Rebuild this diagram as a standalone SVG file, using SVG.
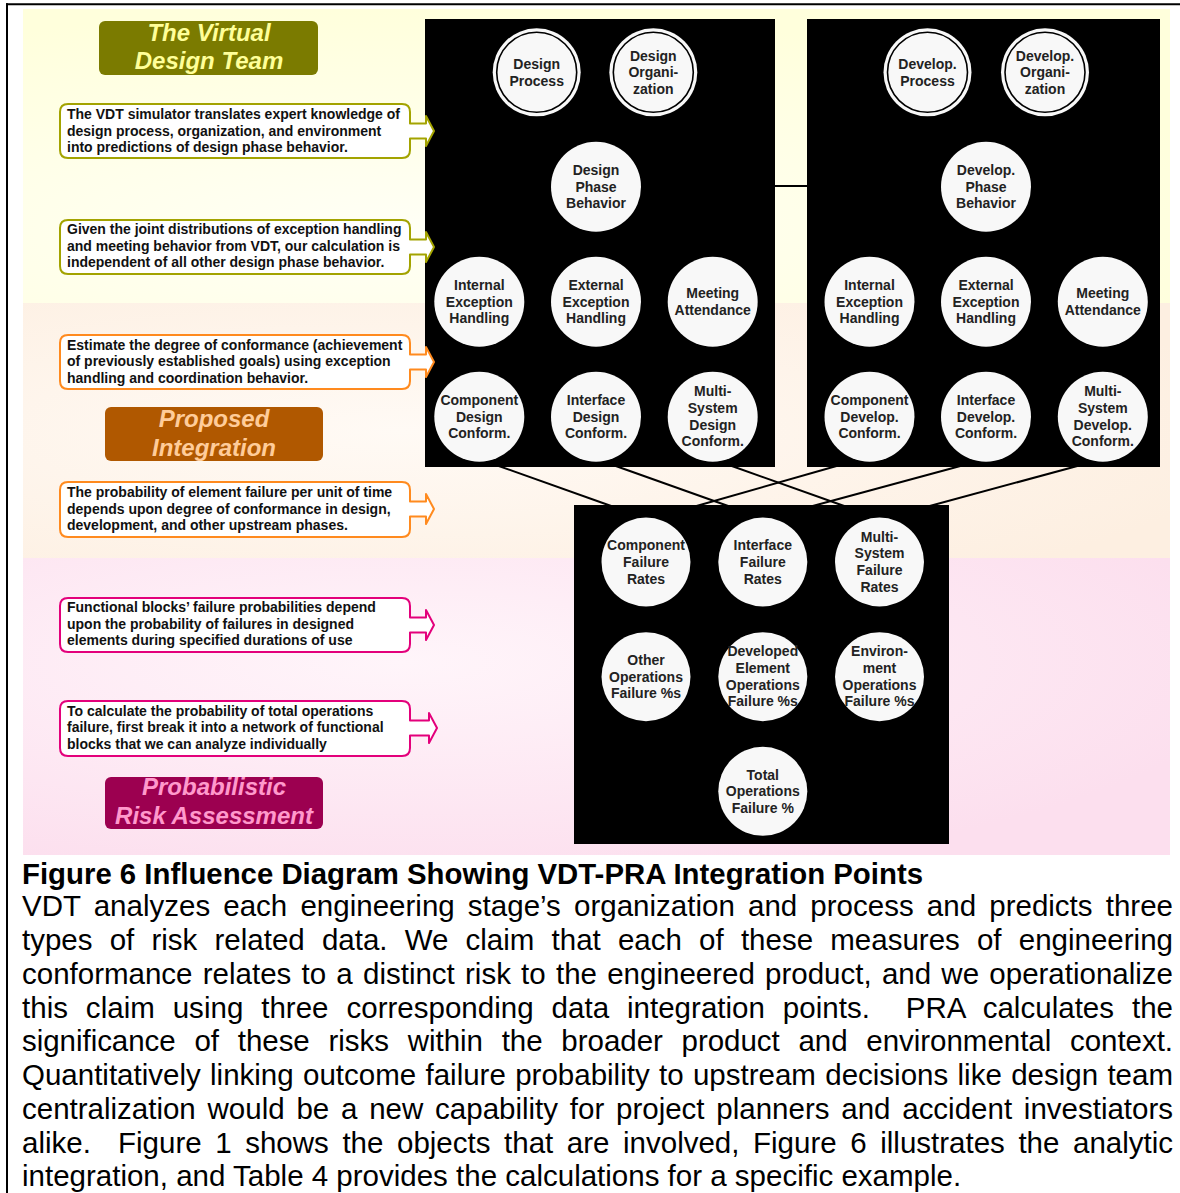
<svg xmlns="http://www.w3.org/2000/svg" width="1180" height="1193" viewBox="0 0 1180 1193">
  <defs>
    <radialGradient id="bandYellow" cx="0.33" cy="0.75" r="0.75">
      <stop offset="0" stop-color="#fffff6"/>
      <stop offset="1" stop-color="#ffffdc"/>
    </radialGradient>
    <radialGradient id="bandPeach" cx="0.33" cy="0.5" r="0.75">
      <stop offset="0" stop-color="#fffaf5"/>
      <stop offset="1" stop-color="#fdefe1"/>
    </radialGradient>
    <radialGradient id="bandPink" cx="0.33" cy="0.35" r="0.75">
      <stop offset="0" stop-color="#fff5fa"/>
      <stop offset="1" stop-color="#fcdfee"/>
    </radialGradient>
    <style>
      .title { font-family: "Liberation Sans", Arial, sans-serif; font-size: 24px; font-weight: bold; font-style: italic; text-anchor: middle; }
      .note { font-family: "Liberation Sans", Arial, sans-serif; font-size: 14px; font-weight: bold; fill: #111; }
      .call { fill: #ffffff; stroke-width: 2; stroke-linejoin: round; }
      .olive { stroke: #a3a300; }
      .orange { stroke: #ff8a1e; }
      .pink { stroke: #e3007b; }
      .panel { fill: #000000; }
      .node circle { fill: #f8f8f8; }
      .node .ring { fill: none; stroke: #000; stroke-width: 1.6; }
      .node text { font-family: "Liberation Sans", Arial, sans-serif; font-size: 14px; font-weight: bold; fill: #222; text-anchor: middle; }
      .link { stroke: #000; stroke-width: 2; fill: none; }
      .cap { font-family: "Liberation Sans", Arial, sans-serif; font-size: 29.5px; fill: #000; }
    </style>
  </defs>

  <!-- page background and table frame -->
  <rect x="0" y="0" width="1180" height="1193" fill="#ffffff"/>
  <rect x="23" y="9" width="1147" height="294" fill="url(#bandYellow)"/>
  <rect x="23" y="303" width="1147" height="255" fill="url(#bandPeach)"/>
  <rect x="23" y="558" width="1147" height="297" fill="url(#bandPink)"/>
  <line x1="6" y1="4.3" x2="1180" y2="4.3" stroke="#000" stroke-width="2"/>
  <line x1="7" y1="3.3" x2="7" y2="1193" stroke="#000" stroke-width="2"/>

  <!-- section titles -->
  <g id="title-vdt">
    <rect x="99" y="21" width="219" height="54" rx="6" fill="#7b7b00"/>
    <text class="title" fill="#ffff99"><tspan x="209" y="41">The Virtual</tspan><tspan x="209" y="69">Design Team</tspan></text>
  </g>
  <g id="title-integration">
    <rect x="105" y="407" width="218" height="54" rx="6" fill="#b05800"/>
    <text class="title" fill="#ffcc99"><tspan x="214" y="427">Proposed</tspan><tspan x="214" y="456">Integration</tspan></text>
  </g>
  <g id="title-pra">
    <rect x="105" y="777" width="218" height="52" rx="6" fill="#9c0050"/>
    <text class="title" fill="#ff99cc"><tspan x="214" y="795">Probabilistic</tspan><tspan x="214" y="824">Risk Assessment</tspan></text>
  </g>

  <!-- influence links between the stage panels -->
  <g id="connectors">
    <line class="link" x1="775" y1="186" x2="807" y2="186"/>
    <line class="link" x1="496" y1="465" x2="614" y2="507"/>
    <line class="link" x1="613" y1="465" x2="731" y2="507"/>
    <line class="link" x1="729" y1="465" x2="847" y2="507"/>
    <line class="link" x1="840" y1="465" x2="693" y2="507"/>
    <line class="link" x1="964" y1="465" x2="809" y2="507"/>
    <line class="link" x1="1081" y1="465" x2="926" y2="507"/>
  </g>

  <!-- stage panels -->
  <rect id="panel-design" class="panel" x="425" y="19" width="350" height="448"/>
  <rect id="panel-develop" class="panel" x="807" y="19" width="353" height="448"/>
  <rect id="panel-pra" class="panel" x="574" y="505" width="375" height="339"/>

  <!-- callouts pointing into the panels (drawn over the panel edge) -->
  <g id="note-1">
    <path class="call olive" d="M68 104 H402 Q410 104 410 112 V123.5 H426 V116 L434 131 L426 146 V138.5 H410 V150 Q410 158 402 158 H68 Q60 158 60 150 V112 Q60 104 68 104 Z"/>
    <text class="note"><tspan x="67" y="119">The VDT simulator translates expert knowledge of</tspan><tspan x="67" y="135.5">design process, organization, and environment</tspan><tspan x="67" y="152">into predictions of design phase behavior.</tspan></text>
  </g>
  <g id="note-2">
    <path class="call olive" d="M68 220 H402 Q410 220 410 228 V239.5 H426 V232 L434 247 L426 262 V254.5 H410 V266 Q410 274 402 274 H68 Q60 274 60 266 V228 Q60 220 68 220 Z"/>
    <text class="note"><tspan x="67" y="234">Given the joint distributions of exception handling</tspan><tspan x="67" y="250.5">and meeting behavior from VDT, our calculation is</tspan><tspan x="67" y="267">independent of all other design phase behavior.</tspan></text>
  </g>
  <g id="note-3">
    <path class="call orange" d="M68 335 H402 Q410 335 410 343 V354.5 H426 V347 L434 362 L426 377 V369.5 H410 V381 Q410 389 402 389 H68 Q60 389 60 381 V343 Q60 335 68 335 Z"/>
    <text class="note"><tspan x="67" y="349.5">Estimate the degree of conformance (achievement</tspan><tspan x="67" y="366">of previously established goals) using exception</tspan><tspan x="67" y="382.5">handling and coordination behavior.</tspan></text>
  </g>
  <g id="note-4">
    <path class="call orange" d="M68 482 H402 Q410 482 410 490 V501.5 H426 V494 L434 509 L426 524 V516.5 H410 V529 Q410 537 402 537 H68 Q60 537 60 529 V490 Q60 482 68 482 Z"/>
    <text class="note"><tspan x="67" y="497">The probability of element failure per unit of time</tspan><tspan x="67" y="513.5">depends upon degree of conformance in design,</tspan><tspan x="67" y="530">development, and other upstream phases.</tspan></text>
  </g>
  <g id="note-5">
    <path class="call pink" d="M68 598 H402 Q410 598 410 606 V617.5 H426 V610 L434 625 L426 640 V632.5 H410 V644 Q410 652 402 652 H68 Q60 652 60 644 V606 Q60 598 68 598 Z"/>
    <text class="note"><tspan x="67" y="612">Functional blocks’ failure probabilities depend</tspan><tspan x="67" y="628.5">upon the probability of failures in designed</tspan><tspan x="67" y="645">elements during specified durations of use</tspan></text>
  </g>
  <g id="note-6">
    <path class="call pink" d="M68 701 H402 Q410 701 410 709 V720.5 H429 V713 L437 728 L429 743 V735.5 H410 V748 Q410 756 402 756 H68 Q60 756 60 748 V709 Q60 701 68 701 Z"/>
    <text class="note"><tspan x="67" y="715.5">To calculate the probability of total operations</tspan><tspan x="67" y="732">failure, first break it into a network of functional</tspan><tspan x="67" y="748.5">blocks that we can analyze individually</tspan></text>
  </g>

  <!-- design stage -->
  <g id="design-process" class="node">
    <circle cx="536.7" cy="72.3" r="44"/><circle class="ring" cx="536.7" cy="72.3" r="40"/>
    <text><tspan x="536.7" y="69">Design</tspan><tspan x="536.7" y="85.7">Process</tspan></text>
  </g>
  <g id="design-organization" class="node">
    <circle cx="653.3" cy="72.3" r="44"/><circle class="ring" cx="653.3" cy="72.3" r="40"/>
    <text><tspan x="653.3" y="60.6">Design</tspan><tspan x="653.3" y="77.3">Organi-</tspan><tspan x="653.3" y="94">zation</tspan></text>
  </g>
  <g id="design-phase-behavior" class="node">
    <circle cx="596" cy="186.7" r="45"/>
    <text><tspan x="596" y="175">Design</tspan><tspan x="596" y="191.7">Phase</tspan><tspan x="596" y="208.4">Behavior</tspan></text>
  </g>
  <g id="design-internal-exception" class="node">
    <circle cx="479.3" cy="301.7" r="45"/>
    <text><tspan x="479.3" y="290">Internal</tspan><tspan x="479.3" y="306.7">Exception</tspan><tspan x="479.3" y="323.4">Handling</tspan></text>
  </g>
  <g id="design-external-exception" class="node">
    <circle cx="596" cy="301.7" r="45"/>
    <text><tspan x="596" y="290">External</tspan><tspan x="596" y="306.7">Exception</tspan><tspan x="596" y="323.4">Handling</tspan></text>
  </g>
  <g id="design-meeting-attendance" class="node">
    <circle cx="712.7" cy="301.7" r="45"/>
    <text><tspan x="712.7" y="298.4">Meeting</tspan><tspan x="712.7" y="315">Attendance</tspan></text>
  </g>
  <g id="design-component-conform" class="node">
    <circle cx="479.3" cy="416.7" r="45"/>
    <text><tspan x="479.3" y="405">Component</tspan><tspan x="479.3" y="421.7">Design</tspan><tspan x="479.3" y="438.4">Conform.</tspan></text>
  </g>
  <g id="design-interface-conform" class="node">
    <circle cx="596" cy="416.7" r="45"/>
    <text><tspan x="596" y="405">Interface</tspan><tspan x="596" y="421.7">Design</tspan><tspan x="596" y="438.4">Conform.</tspan></text>
  </g>
  <g id="design-multisystem-conform" class="node">
    <circle cx="712.7" cy="416.7" r="45"/>
    <text><tspan x="712.7" y="396.2">Multi-</tspan><tspan x="712.7" y="412.9">System</tspan><tspan x="712.7" y="429.6">Design</tspan><tspan x="712.7" y="446.3">Conform.</tspan></text>
  </g>

  <!-- development stage -->
  <g id="develop-process" class="node">
    <circle cx="927.5" cy="72.3" r="44"/><circle class="ring" cx="927.5" cy="72.3" r="40"/>
    <text><tspan x="927.5" y="69">Develop.</tspan><tspan x="927.5" y="85.7">Process</tspan></text>
  </g>
  <g id="develop-organization" class="node">
    <circle cx="1045" cy="72.3" r="44"/><circle class="ring" cx="1045" cy="72.3" r="40"/>
    <text><tspan x="1045" y="60.6">Develop.</tspan><tspan x="1045" y="77.3">Organi-</tspan><tspan x="1045" y="94">zation</tspan></text>
  </g>
  <g id="develop-phase-behavior" class="node">
    <circle cx="986" cy="186.7" r="45"/>
    <text><tspan x="986" y="175">Develop.</tspan><tspan x="986" y="191.7">Phase</tspan><tspan x="986" y="208.4">Behavior</tspan></text>
  </g>
  <g id="develop-internal-exception" class="node">
    <circle cx="869.5" cy="301.7" r="45"/>
    <text><tspan x="869.5" y="290">Internal</tspan><tspan x="869.5" y="306.7">Exception</tspan><tspan x="869.5" y="323.4">Handling</tspan></text>
  </g>
  <g id="develop-external-exception" class="node">
    <circle cx="986" cy="301.7" r="45"/>
    <text><tspan x="986" y="290">External</tspan><tspan x="986" y="306.7">Exception</tspan><tspan x="986" y="323.4">Handling</tspan></text>
  </g>
  <g id="develop-meeting-attendance" class="node">
    <circle cx="1102.8" cy="301.7" r="45"/>
    <text><tspan x="1102.8" y="298.4">Meeting</tspan><tspan x="1102.8" y="315">Attendance</tspan></text>
  </g>
  <g id="develop-component-conform" class="node">
    <circle cx="869.5" cy="416.7" r="45"/>
    <text><tspan x="869.5" y="405">Component</tspan><tspan x="869.5" y="421.7">Develop.</tspan><tspan x="869.5" y="438.4">Conform.</tspan></text>
  </g>
  <g id="develop-interface-conform" class="node">
    <circle cx="986" cy="416.7" r="45"/>
    <text><tspan x="986" y="405">Interface</tspan><tspan x="986" y="421.7">Develop.</tspan><tspan x="986" y="438.4">Conform.</tspan></text>
  </g>
  <g id="develop-multisystem-conform" class="node">
    <circle cx="1102.8" cy="416.7" r="45"/>
    <text><tspan x="1102.8" y="396.2">Multi-</tspan><tspan x="1102.8" y="412.9">System</tspan><tspan x="1102.8" y="429.6">Develop.</tspan><tspan x="1102.8" y="446.3">Conform.</tspan></text>
  </g>

  <!-- risk assessment -->
  <g id="component-failure-rates" class="node">
    <circle cx="646" cy="562" r="44.5"/>
    <text><tspan x="646" y="550.3">Component</tspan><tspan x="646" y="567">Failure</tspan><tspan x="646" y="583.7">Rates</tspan></text>
  </g>
  <g id="interface-failure-rates" class="node">
    <circle cx="762.8" cy="562" r="44.5"/>
    <text><tspan x="762.8" y="550.3">Interface</tspan><tspan x="762.8" y="567">Failure</tspan><tspan x="762.8" y="583.7">Rates</tspan></text>
  </g>
  <g id="multisystem-failure-rates" class="node">
    <circle cx="879.5" cy="562" r="44.5"/>
    <text><tspan x="879.5" y="541.5">Multi-</tspan><tspan x="879.5" y="558.2">System</tspan><tspan x="879.5" y="574.9">Failure</tspan><tspan x="879.5" y="591.6">Rates</tspan></text>
  </g>
  <g id="other-operations-failure" class="node">
    <circle cx="646" cy="676.7" r="44.5"/>
    <text><tspan x="646" y="665">Other</tspan><tspan x="646" y="681.7">Operations</tspan><tspan x="646" y="698.4">Failure %s</tspan></text>
  </g>
  <g id="developed-element-failure" class="node">
    <circle cx="762.8" cy="676.7" r="44.5"/>
    <text><tspan x="762.8" y="656.2">Developed</tspan><tspan x="762.8" y="672.9">Element</tspan><tspan x="762.8" y="689.6">Operations</tspan><tspan x="762.8" y="706.3">Failure %s</tspan></text>
  </g>
  <g id="environment-failure" class="node">
    <circle cx="879.5" cy="676.7" r="44.5"/>
    <text><tspan x="879.5" y="656.2">Environ-</tspan><tspan x="879.5" y="672.9">ment</tspan><tspan x="879.5" y="689.6">Operations</tspan><tspan x="879.5" y="706.3">Failure %s</tspan></text>
  </g>
  <g id="total-operations-failure" class="node">
    <circle cx="762.8" cy="791.3" r="44.5"/>
    <text><tspan x="762.8" y="779.6">Total</tspan><tspan x="762.8" y="796.3">Operations</tspan><tspan x="762.8" y="813">Failure %</tspan></text>
  </g>

  <!-- figure caption and body paragraph -->
  <text class="cap" x="22" y="883.5" font-weight="bold" textLength="901" lengthAdjust="spacingAndGlyphs">Figure 6 Influence Diagram Showing VDT-PRA Integration Points</text>
  <text class="cap" x="22" y="916" word-spacing="4.92" textLength="1151" lengthAdjust="spacing">VDT analyzes each engineering stage’s organization and process and predicts three</text>
  <text class="cap" x="22" y="950" word-spacing="8.95" textLength="1151" lengthAdjust="spacing">types of risk related data. We claim that each of these measures of engineering</text>
  <text class="cap" x="22" y="984" word-spacing="2.05" textLength="1151" lengthAdjust="spacing">conformance relates to a distinct risk to the engineered product, and we operationalize</text>
  <text class="cap" x="22" y="1017.5" word-spacing="9.69" textLength="1151" lengthAdjust="spacing" xml:space="preserve">this claim using three corresponding data integration points.  PRA calculates the</text>
  <text class="cap" x="22" y="1051" word-spacing="10.62" textLength="1151" lengthAdjust="spacing">significance of these risks within the broader product and environmental context.</text>
  <text class="cap" x="22" y="1085" word-spacing="1.15" textLength="1151" lengthAdjust="spacing">Quantitatively linking outcome failure probability to upstream decisions like design team</text>
  <text class="cap" x="22" y="1119" word-spacing="3.59" textLength="1151" lengthAdjust="spacing">centralization would be a new capability for project planners and accident investiators</text>
  <text class="cap" x="22" y="1152.5" word-spacing="5.39" textLength="1151" lengthAdjust="spacing" xml:space="preserve">alike.  Figure 1 shows the objects that are involved, Figure 6 illustrates the analytic</text>
  <text class="cap" x="22" y="1186">integration, and Table 4 provides the calculations for a specific example.</text>
</svg>
